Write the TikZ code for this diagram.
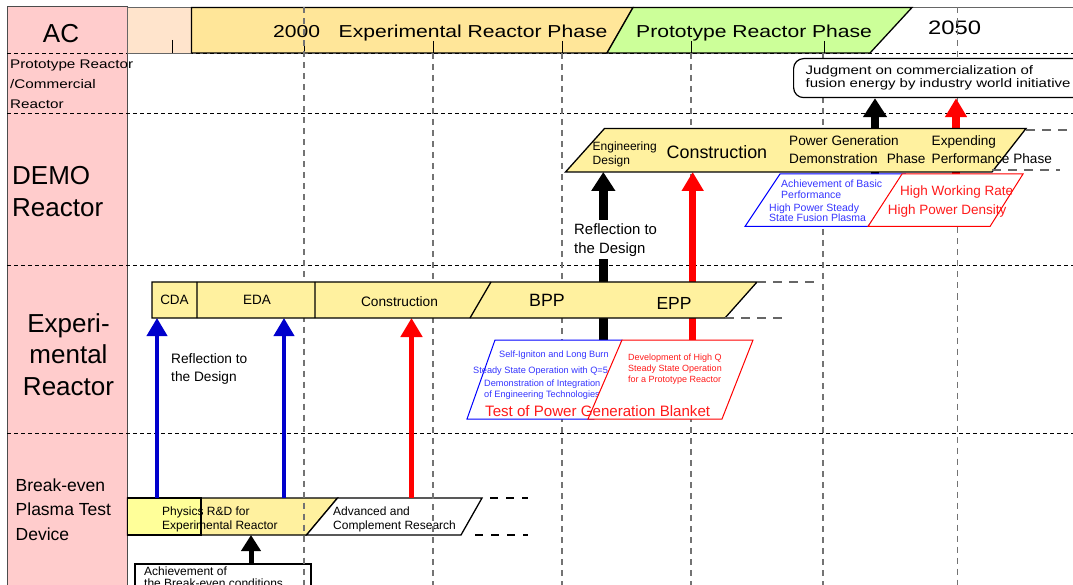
\documentclass[tikz,border=0pt]{standalone}
\usepackage{fontspec}
\setmainfont{Liberation Sans}
\newfontfamily\widefont[FakeStretch=1.22]{Liberation Sans}
\usepackage{tikz}
\usetikzlibrary{arrows.meta, positioning}
\definecolor{rowpink}{HTML}{FFCCCC}
\definecolor{peach}{HTML}{FFE4CC}
\definecolor{phaseyel}{HTML}{FFE699}
\definecolor{phasegrn}{HTML}{CCFF99}
\definecolor{baryel}{HTML}{FFF19F}
\definecolor{lemon}{HTML}{FFFF99}
\definecolor{arrblue}{HTML}{0000CC}
\definecolor{txtblue}{HTML}{3535FF}
\definecolor{txtred}{HTML}{FF1A1A}
\newcommand{\fsz}[2]{\fontsize{#1}{#2}\selectfont}

\begin{document}
\begin{tikzpicture}[x=1pt, y=-1pt, line join=miter,
	rowline/.style={black, line width=0.8pt, dash pattern=on 4pt off 3pt},
	gridline/.style={black!55, line width=1.3pt, dash pattern=on 6pt off 5pt},
	trail/.style={black!60, line width=1.3pt, dash pattern=on 9pt off 7pt},
	bar/.style={draw=black, line width=1.3pt},
	bigup/.style={line width=8.5pt, -{Triangle[width=23pt, length=19pt]}},
	midup/.style={line width=6.5pt, -{Triangle[width=21pt, length=19pt]}},
	thinup/.style={line width=4pt, -{Triangle[width=20pt, length=18pt]}}]
	\tikzset{lbl/.style={inner sep=0pt, anchor=base west}, blk/.style={inner sep=0pt, anchor=north west, align=left}}
	\useasboundingbox (0,0) rectangle (1073,585);
	\clip (0,0) rectangle (1073,585);

	\fill[rowpink] (7,7) rectangle (127.5,590);
	\draw[black!70, line width=1pt] (7,590) -- (7,7) -- (127.5,7) -- (127.5,590);
	\draw[rowline] (7,53) -- (1073,53) (7,113) -- (1073,113) (7,265) -- (1073,265) (7,433) -- (1073,433);
	\draw[black!60, line width=1.2pt] (127.5,7.5) -- (1073,7.5);

	\node[inner sep=0pt, font=\fsz{26}{26}] (ac) at (61,34) {AC};
	\node[blk, font=\widefont\fsz{12.5}{20}] (proto) at (10,60) {Prototype Reactor\\/Commercial\\Reactor};
	\node[blk, font=\fsz{26}{32}] (demo) at (12,166.4) {DEMO\\Reactor};
	\node[inner sep=0pt, anchor=north, align=center, font=\fsz{26}{31.5}] (exper) at (68.5,313.4) {Experi-\\mental\\Reactor};
	\node[blk, font=\fsz{17.5}{24.5}] (bptd) at (15.5,478.5) {Break-even\\Plasma Test\\Device};

	\draw[black!60, line width=0.8pt, fill=peach] (127.5,7.5) rectangle (191.5,53);
	\draw[bar, fill=phaseyel] (191.5,7.5) -- (633,7.5) -- (607,53) -- (191.5,53) -- cycle;
	\draw[bar, fill=phasegrn] (633,7.5) -- (912,7.5) -- (870,53) -- (607,53) -- cycle;
	\draw[black, line width=1pt] (172,40) -- (172,53) (304,41) -- (304,53) (433,41) -- (433,53) (562,41) -- (562,53) (691,41) -- (691,53) (824,41) -- (824,53);
	\node[lbl, font=\widefont\fsz{17.3}{18}] (y2000) at (273,37.5) {2000};
	\node[lbl, font=\widefont\fsz{17.3}{18}] (expph) at (338.5,37.5) {Experimental Reactor Phase};
	\node[lbl, font=\widefont\fsz{17.3}{18}] (protph) at (636,37.5) {Prototype Reactor Phase};
	\node[lbl, font=\widefont\fsz{19.5}{20}] (y2050) at (928,35) {2050};

	\draw[bar, fill=baryel] (127.5,498) -- (337.5,498) -- (306.5,535) -- (127.5,535) -- cycle;
	\draw[bar, fill=lemon] (127.5,498) rectangle (201,535);
	\draw[bar, fill=white] (306.5,535) -- (337.5,498) -- (482,498) -- (461,535) -- cycle;
	\draw[black, line width=2pt, dash pattern=on 8pt off 8pt] (490,498) -- (528,498) (475,535) -- (528,535);
	\node[blk, font=\fsz{12}{14}] (physrd) at (162,506.4) {Physics R\&D for\\Experimental Reactor};
	\node[blk, font=\fsz{12}{14}] (advc) at (333,506.4) {Advanced and\\Complement Research};
	\draw[black, line width=1.2pt] (135,600) -- (135,564) -- (311,564) -- (311,600);
	\node[blk, font=\fsz{12}{12}] (achv) at (144,566.4) {Achievement of\\the Break-even conditions};

	\draw[gridline] (304,7.5) -- (304,585) (433,53) -- (433,585) (562,53) -- (562,585) (691,53) -- (691,585) (823,53) -- (823,585) (957.5,7.5) -- (957.5,585);

	\node[draw, line width=1.2pt, rounded corners=10pt, fill=white, anchor=north west, inner xsep=12pt, inner ysep=0pt, minimum height=39pt, text width=275pt, align=left, font=\widefont\fsz{12.3}{13}] (judge) at (793,58) {Judgment on commercialization of\\fusion energy by industry world initiative};

	\coordinate (expB) at (152,318);
	\coordinate (demoB) at (565.5,172);
	\coordinate (bptB) at (127.5,535);
	\coordinate (refl1) at (157,498);
	\coordinate (refl2) at (284,498);
	\coordinate (cons1) at (411.5,498);
	\coordinate (bpp1) at (603.3,340);
	\coordinate (epp1) at (692.7,340);
	\coordinate (basic1) at (875,174);
	\coordinate (rate1) at (956,174);
	\coordinate (brk1) at (251,564);
	\draw[thinup, arrblue] (refl1) -- (refl1 |- expB);
	\draw[thinup, arrblue] (refl2) -- (refl2 |- expB);
	\draw[midup, red, line width=5.7pt] (cons1) -- (cons1 |- expB);
	\draw[bigup, black] (bpp1) -- (bpp1 |- demoB);
	\draw[midup, red] (epp1) -- (epp1 |- demoB);
	\draw[bigup, black] (basic1) -- (basic1 |- judge.south);
	\draw[midup, red, line width=7.5pt] (rate1) -- (rate1 |- judge.south);
	\draw[thinup, black, line width=5pt, -{Triangle[width=19pt, length=16pt]}] (brk1) -- (brk1 |- bptB);

	\draw[bar, fill=baryel] (152,282) -- (757,282) -- (725,318) -- (152,318) -- cycle;
	\draw[bar] (197,282) -- (197,318) (315,282) -- (315,318) (491,282) -- (470,318);
	\draw[trail] (757,282) -- (815,282) (725,318) -- (787,318);
	\node[inner sep=0pt, anchor=base, font=\fsz{13.5}{14}] (cda) at (174.5,304.3) {CDA};
	\node[inner sep=0pt, anchor=base, font=\fsz{13.5}{14}] (eda) at (257,304.3) {EDA};
	\node[inner sep=0pt, anchor=base, font=\fsz{13.7}{14}] (excons) at (399.5,306) {Construction};
	\node[inner sep=0pt, anchor=base, font=\fsz{17.8}{18}] (bpp) at (547,306) {BPP};
	\node[inner sep=0pt, anchor=base, font=\fsz{17.5}{18}] (epp) at (674,309.3) {EPP};
	\node[blk, font=\fsz{13.7}{17.7}] (refexp) at (171,353.5) {Reflection to\\the Design};

	\draw[bar, fill=baryel] (565.5,172) -- (604.5,128.5) -- (1026,128.5) -- (992,172) -- cycle;
	\draw[trail] (1026,130) -- (1073,130) (992,170) -- (1060,170);
	\node[blk, font=\fsz{12}{14.4}] (engd) at (592.5,141.4) {Engineering\\Design};
	\node[lbl, font=\fsz{17.9}{18}] (dcons) at (666.5,159) {Construction};
	\node[blk, font=\fsz{13.6}{18}] (pgd) at (789,135) {Power Generation\\Demonstration\hspace{5.5pt} Phase};
	\node[blk, font=\fsz{13.6}{18}] (epp2) at (931.5,135) {Expending\\Performance Phase};
	\node[blk, inner sep=3pt, fill=white, font=\fsz{14.9}{19}] (refdemo) at (571,220.3) {Reflection to\\the Design};

	\draw[blue, line width=1pt, fill=white] (780,174) -- (905,174) -- (868,226.5) -- (745,226.5) -- cycle;
	\node[blk, text=txtblue, font=\fsz{10.5}{10.8}] (basic) at (781,179.8) {Achievement of Basic\\Performance};
	\node[blk, text=txtblue, font=\fsz{10.5}{10.8}] (steady) at (769,203.2) {High Power Steady\\State Fusion Plasma};
	\draw[red, line width=1pt, fill=white] (902,174) -- (1023,174) -- (990,226.5) -- (868,226.5) -- cycle;
	\node[lbl, text=txtred, font=\fsz{13.5}{14}] (rate) at (900,196) {High Working Rate};
	\node[lbl, text=txtred, font=\fsz{13.5}{14}] (dens) at (887.7,215) {High Power Density};

	\draw[blue, line width=1pt, fill=white] (495,340) -- (622,340) -- (594,419) -- (467,419) -- cycle;
	\node[lbl, text=txtblue, font=\fsz{9.2}{10}] (ign) at (499,357.3) {Self-Igniton and Long Burn};
	\node[lbl, text=txtblue, font=\fsz{9.2}{10}] (q5) at (473,373.3) {Steady State Operation with Q=5};
	\node[blk, text=txtblue, font=\fsz{9.2}{10.6}] (integ) at (484,380.1) {Demonstration of Integration\\of Engineering Technologies};
	\draw[red, line width=1pt, fill=white] (622,340) -- (753,340) -- (722,419) -- (588,419) -- cycle;
	\node[blk, text=txtred, font=\fsz{9}{11}] (highq) at (628,353.6) {Development of High Q\\Steady State Operation\\for a Prototype Reactor};
	\node[lbl, text=txtred, font=\fsz{15.1}{16}] (blanket) at (485,416.7) {Test of Power Generation Blanket};
\end{tikzpicture}
\end{document}
